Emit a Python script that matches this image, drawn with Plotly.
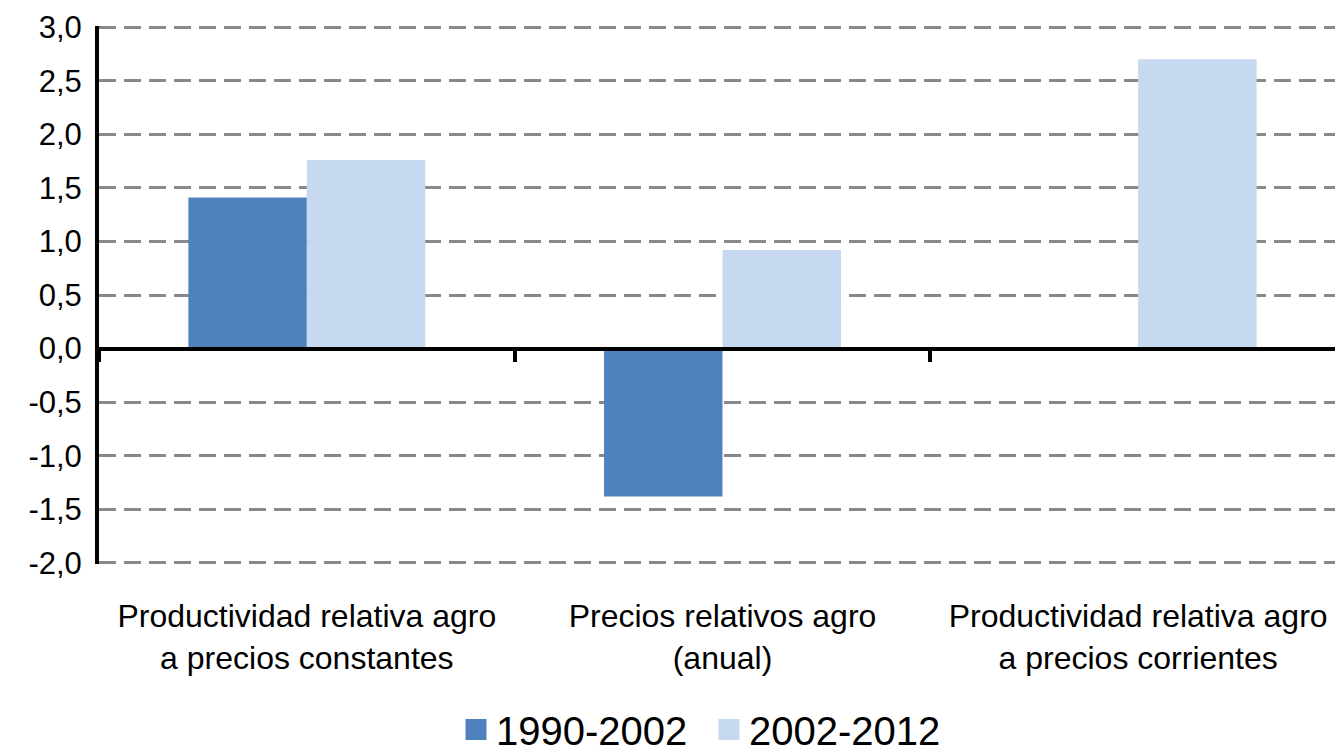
import plotly.graph_objects as go

categories = [
    "Productividad relativa agro<br>a precios constantes",
    "Precios relativos agro<br>(anual)",
    "Productividad relativa agro<br>a precios corrientes",
]
series_names = ["1990-2002", "2002-2012"]
values_1990_2002 = [1.41, -1.38, 0.0]
values_2002_2012 = [1.76, 0.92, 2.70]
colors = ["#4F81BD", "#C6D9F0"]
y_tickvals = [3.0, 2.5, 2.0, 1.5, 1.0, 0.5, 0.0, -0.5, -1.0, -1.5, -2.0]
y_ticktext = ["3,0", "2,5", "2,0", "1,5", "1,0", "0,5", "0,0", "-0,5", "-1,0", "-1,5", "-2,0"]

FONT = "Liberation Sans, Arial, sans-serif"

fig = go.Figure()
for name, vals, col in zip(series_names, [values_1990_2002, values_2002_2012], colors):
    fig.add_trace(go.Bar(x=categories, y=vals, name=name, marker=dict(color=col, line=dict(width=0)),
                         showlegend=False, xaxis="x", yaxis="y"))
# legend entries (bigger square symbols)
for name, col in zip(series_names, colors):
    fig.add_trace(go.Scatter(x=[None], y=[None], mode="markers", name=name,
                             marker=dict(symbol="square", size=16, color=col, line=dict(color=col, width=5)),
                             xaxis="x", yaxis="y"))
# invisible trace for category label axis
fig.add_trace(go.Scatter(x=categories, y=[None] * len(categories), mode="markers", showlegend=False,
                         hoverinfo="skip", xaxis="x2", yaxis="y"))

ymin, ymax = -2.01, 3.01
fig.update_layout(
    width=1343, height=754,
    margin=dict(l=91, r=5, t=18, b=198, autoexpand=False),
    paper_bgcolor="white", plot_bgcolor="white",
    barmode="group", bargap=0.43, bargroupgap=0,
    font=dict(family=FONT, color="black"),
    xaxis=dict(type="category", categoryarray=categories, range=[-0.5, 2.5],
               anchor="free", position=(0 - ymin) / (ymax - ymin), automargin=False,
               showline=True, linecolor="black", linewidth=4,
               ticks="outside", tickson="boundaries", ticklen=11, tickwidth=4, tickcolor="black",
               showticklabels=False, showgrid=False, zeroline=False),
    xaxis2=dict(type="category", categoryarray=categories, range=[-0.5, 2.5],
                overlaying="x", anchor="y", side="bottom", automargin=False,
                showline=False, ticks="", showgrid=False, zeroline=False,
                tickfont=dict(size=32, family=FONT, color="black"), ticklabelstandoff=30),
    yaxis=dict(range=[ymin, ymax], tickvals=y_tickvals, ticktext=y_ticktext, automargin=False,
               ticklabeloverflow="allow",
               showline=True, linecolor="black", linewidth=4, ticks="",
               showgrid=True, gridcolor="#898989", gridwidth=2.5, griddash="17px,8px",
               zeroline=True, zerolinecolor="black", zerolinewidth=4,
               tickfont=dict(size=31, family=FONT, color="black"), ticklabelstandoff=7),
    legend=dict(orientation="h", xref="container", yref="container", x=448 / 1343, xanchor="left",
                y=0, yanchor="bottom", font=dict(size=40, family=FONT, color="black"),
                itemwidth=30, entrywidth=208, entrywidthmode="pixels", tracegroupgap=0,
                bgcolor="rgba(0,0,0,0)"),
)

fig.write_html("out.html")
